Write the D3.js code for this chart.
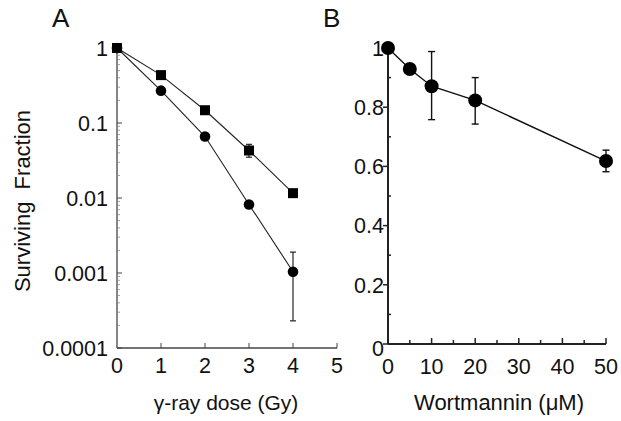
<!DOCTYPE html>
<html><head><meta charset="utf-8">
<script src="https://cdn.jsdelivr.net/npm/d3@7"></script>
<style>body{margin:0;background:#fff}svg{display:block}text{font-family:"Liberation Sans",Arial,sans-serif;fill:#111}</style>
</head><body><svg id="c" width="621" height="421"></svg>
<script>
// Panel A: gamma-ray dose (Gy) vs surviving fraction
const doseA = [0, 1, 2, 3, 4];
const squaresA = [1, 0.435, 0.148, 0.043, 0.0116];
const squaresErrLo = [null, null, null, 0.035, null];
const squaresErrHi = [null, null, null, 0.052, null];
const circlesA = [1, 0.27, 0.066, 0.0082, 0.00104];
const circlesErrLo = [null, null, null, null, 0.00023];
const circlesErrHi = [null, null, null, null, 0.0019];
const xTicksA = [0, 1, 2, 3, 4, 5];
const yTicksA = [1, 0.1, 0.01, 0.001, 0.0001];
const yTickLabelsA = ["1", "0.1", "0.01", "0.001", "0.0001"];
// Panel B: wortmannin (uM) vs surviving fraction
const wortB = [0, 5, 10, 20, 50];
const survB = [1.0, 0.929, 0.871, 0.823, 0.618];
const survBErrLo = [null, null, 0.758, 0.743, 0.582];
const survBErrHi = [null, null, 0.988, 0.900, 0.655];
const xTicksB = [0, 10, 20, 30, 40, 50];
const yTicksB = [0, 0.2, 0.4, 0.6, 0.8, 1];

const svg = d3.select("#c");
const FS = 21.5;
const TS = 22;

// ---------- Panel A ----------
const xA = d3.scaleLinear().domain([0, 5]).range([117, 337]);
const yA = d3.scaleLog().domain([1e-4, 1]).range([348, 48]);
const gA = svg.append("g");
const axStroke = "#444";
gA.append("line").attr("x1", xA(0)).attr("x2", xA(5)).attr("y1", yA(1e-4)).attr("y2", yA(1e-4)).attr("stroke", axStroke).attr("stroke-width", 1.3);
gA.append("line").attr("x1", xA(0)).attr("x2", xA(0)).attr("y1", yA(1e-4)).attr("y2", yA(1)).attr("stroke", axStroke).attr("stroke-width", 1.3);
xTicksA.forEach(t => {
  if (t > 0) gA.append("line").attr("x1", xA(t)).attr("x2", xA(t)).attr("y1", yA(1e-4)).attr("y2", yA(1e-4) - 5).attr("stroke", axStroke).attr("stroke-width", 1);
  gA.append("text").attr("x", xA(t)).attr("y", 373).attr("text-anchor", "middle").attr("font-size", FS).text(t);
});
yTicksA.forEach((t, i) => {
  gA.append("line").attr("x1", xA(0)).attr("x2", xA(0) + 5).attr("y1", yA(t)).attr("y2", yA(t)).attr("stroke", axStroke).attr("stroke-width", 1);
  gA.append("text").attr("x", 108).attr("y", yA(t)).attr("dy", "0.36em").attr("text-anchor", "end").attr("font-size", FS).text(yTickLabelsA[i]);
});
yA.ticks().forEach(t => {
  const m = Math.round(t / Math.pow(10, Math.floor(Math.log10(t) + 1e-9)));
  if (m !== 1) gA.append("line").attr("x1", xA(0)).attr("x2", xA(0) + 3).attr("y1", yA(t)).attr("y2", yA(t)).attr("stroke", "#888").attr("stroke-width", 0.8);
});
const lineA = d3.line().x((d, i) => xA(doseA[i])).y(d => yA(d));
gA.append("path").attr("d", lineA(circlesA)).attr("fill", "none").attr("stroke", "#222").attr("stroke-width", 1.1);
gA.append("path").attr("d", lineA(squaresA)).attr("fill", "none").attr("stroke", "#222").attr("stroke-width", 1.1);
function errBars(g, xs, lo, hi, xsc, ysc, cap, sw) {
  xs.forEach((x, i) => {
    if (lo[i] == null) return;
    const px = xsc(x);
    g.append("line").attr("x1", px).attr("x2", px).attr("y1", ysc(lo[i])).attr("y2", ysc(hi[i])).attr("stroke", "#111").attr("stroke-width", sw);
    [lo[i], hi[i]].forEach(v => g.append("line").attr("x1", px - cap).attr("x2", px + cap).attr("y1", ysc(v)).attr("y2", ysc(v)).attr("stroke", "#111").attr("stroke-width", sw));
  });
}
errBars(gA, doseA, circlesErrLo, circlesErrHi, xA, yA, 3, 1.1);
errBars(gA, doseA, squaresErrLo, squaresErrHi, xA, yA, 3, 1.1);
gA.selectAll("circle.a").data(circlesA).enter().append("circle")
  .attr("cx", (d, i) => xA(doseA[i])).attr("cy", d => yA(d)).attr("r", 5.3).attr("fill", "#000");
gA.selectAll("rect.a").data(squaresA).enter().append("rect")
  .attr("x", (d, i) => xA(doseA[i]) - 5).attr("y", d => yA(d) - 5).attr("width", 10).attr("height", 10).attr("fill", "#000");
svg.append("text").attr("x", 52).attr("y", 27).attr("font-size", 26).text("A");
svg.append("text").attr("x", 226).attr("y", 410).attr("text-anchor", "middle").attr("font-size", 21).text("γ-ray dose (Gy)");
svg.append("text").attr("transform", "translate(30,201) rotate(-90)").attr("text-anchor", "middle").attr("font-size", TS).attr("xml:space", "preserve").style("white-space", "pre").text("Surviving  Fraction");

// ---------- Panel B ----------
const xB = d3.scaleLinear().domain([0, 50]).range([388, 606]);
const yB = d3.scaleLinear().domain([0, 1]).range([344, 48]);
const gB = svg.append("g");
gB.append("line").attr("x1", xB(0)).attr("x2", xB(50)).attr("y1", yB(0)).attr("y2", yB(0)).attr("stroke", "#222").attr("stroke-width", 2);
gB.append("line").attr("x1", xB(0)).attr("x2", xB(0)).attr("y1", yB(0)).attr("y2", yB(1)).attr("stroke", "#222").attr("stroke-width", 2);
d3.range(0, 51, 5).forEach(t => {
  if (t === 0) return;
  const major = t % 10 === 0;
  gB.append("line").attr("x1", xB(t)).attr("x2", xB(t)).attr("y1", yB(0)).attr("y2", yB(0) - (major ? 6 : 4)).attr("stroke", "#222").attr("stroke-width", 1.5);
});
xTicksB.forEach(t => gB.append("text").attr("x", xB(t)).attr("y", 374).attr("text-anchor", "middle").attr("font-size", FS).text(t));
d3.range(0, 1.01, 0.1).forEach(t => {
  const major = Math.round(t * 10) % 2 === 0;
  if (major) gB.append("line").attr("x1", xB(0) - 5).attr("x2", xB(0)).attr("y1", yB(t)).attr("y2", yB(t)).attr("stroke", "#222").attr("stroke-width", 1.5);
  else gB.append("line").attr("x1", xB(0)).attr("x2", xB(0) + 3).attr("y1", yB(t)).attr("y2", yB(t)).attr("stroke", "#222").attr("stroke-width", 1.5);
});
yTicksB.forEach(t => gB.append("text").attr("x", 384).attr("y", yB(t) + (t === 0 ? 4 : 0)).attr("dy", "0.36em").attr("text-anchor", "end").attr("font-size", FS).text(t));
const lineB = d3.line().x((d, i) => xB(wortB[i])).y(d => yB(d));
gB.append("path").attr("d", lineB(survB)).attr("fill", "none").attr("stroke", "#111").attr("stroke-width", 1.4);
errBars(gB, wortB, survBErrLo, survBErrHi, xB, yB, 3.5, 1.4);
gB.selectAll("circle.b").data(survB).enter().append("circle")
  .attr("cx", (d, i) => xB(wortB[i])).attr("cy", d => yB(d)).attr("r", 7).attr("fill", "#000");
svg.append("text").attr("x", 323).attr("y", 27).attr("font-size", 26).text("B");
svg.append("text").attr("x", 499).attr("y", 410).attr("text-anchor", "middle").attr("font-size", TS).text("Wortmannin (μM)");
</script></body></html>
